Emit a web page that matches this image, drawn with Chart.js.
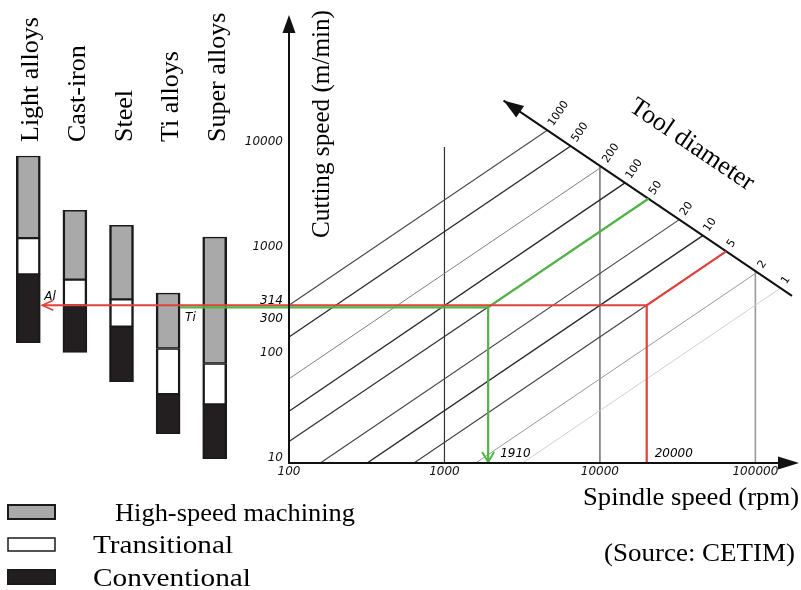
<!DOCTYPE html>
<html><head><meta charset="utf-8">
<script src="https://cdn.jsdelivr.net/npm/chart.js@4.4.1/dist/chart.umd.min.js"></script>
<style>
html,body{margin:0;padding:0;background:#fff;}
#wrap{position:relative;width:801px;height:590px;overflow:hidden;background:#fff;}
canvas{position:absolute;left:0;top:0;}
</style></head><body>
<div id="wrap"><canvas id="bars" width="801" height="590"></canvas><canvas id="nomo" width="801" height="590"></canvas></div>
<script>
// ---------- data ----------
const materials = ['Light alloys', 'Cast-iron', 'Steel', 'Ti alloys', 'Super alloys'];
const barTop    = [8200, 2500, 1800, 410, 1390];   // top of high-speed zone (m/min)
const hsmLow    = [1360, 550, 357, 122, 88];       // high-speed / transitional limit
const convHigh  = [617, 313, 197, 45, 36];         // transitional / conventional limit
const barBottom = [139, 112, 59, 19, 11];          // bottom of conventional zone
const zoneNames = ['High-speed machining', 'Transitional', 'Conventional'];

const diameters = [1000, 500, 200, 100, 50, 20, 10, 5, 2, 1];        // tool diameter (mm)
const dStartN = [100, 100, 100, 100, 100, 159, 318, 637, 1590, 3180];  // spindle speed at line start
const dStartV = [314, 157, 63, 31, 16, 10, 10, 10, 10, 10];            // cutting speed at line start
const dEndN   = [4590, 6490, 10260, 14500, 20500, 32400, 45900, 64900, 102600, 145000];
const dEndV   = [14400, 10200, 6450, 4560, 3220, 2040, 1440, 1020, 645, 456];

const gridN    = [1000, 10000, 100000];
const gridTopV = [10000, 6600, 661];

const toolAxisN = [2400, 172000];
const toolAxisV = [27500, 385];

const xTicks = [100, 1000, 10000, 100000];
const yTicks = [10, 100, 1000, 10000];

const exampleLabels = ['Al', 'Ti'];
const exampleN = [20000, 1910];
const exampleV = [314, 300];
const exampleD = [5, 50];
const exampleBar = [0, 3];

// ---------- styles ----------
const zoneColors = ['#a9a9a9', '#ffffff', '#231f20'];
const dColors = ['#4a4a4a', '#2a2a2a', '#808080', '#2a2a2a', '#333333', '#444444', '#2a2a2a', '#444444', '#999999', '#d0d0d0'];
const dWidths = [1.1, 1.4, 1, 1.4, 1.3, 1.2, 1.4, 1.2, 1, 1];
const gridColors = ['#333333', '#777777', '#999999'];
const gridWidths = [1.2, 1.6, 1.6];
const exColors = ['#e0423c', '#52b447'];
const SERIF = '"Liberation Serif", "Times New Roman", serif';
const SANS = '"DejaVu Sans", sans-serif';

// draw text stretched horizontally to a given width
function fitText(ctx, text, x, y, width) {
  const w = ctx.measureText(text).width;
  ctx.save();
  ctx.translate(x, y);
  ctx.scale(width / w, 1);
  ctx.fillText(text, 0, 0);
  ctx.restore();
}

// ---------- bar chart (material ranges) ----------
const barLabelsPlugin = {
  id: 'barLabels',
  afterDraw(chart) {
    const ctx = chart.ctx;
    const meta = chart.getDatasetMeta(0);
    ctx.save();
    ctx.fillStyle = '#000';
    ctx.font = '26px ' + SERIF;
    ctx.textAlign = 'left';
    ctx.textBaseline = 'alphabetic';
    meta.data.forEach((el, i) => {
      ctx.save();
      ctx.translate(el.x + 10, 142);
      ctx.rotate(-Math.PI / 2);
      ctx.fillText(chart.data.labels[i], 0, 0);
      ctx.restore();
    });
    // legend
    const sw = [[8, 505, 47, 14, 2], [8, 538, 47, 13, 1.5], [8, 570, 47, 14, 2]];
    const tx = [[115, 521, 240], [93, 553, 140], [93, 586, 158]];
    chart.data.datasets.forEach((ds, i) => {
      const [x, y, w, h, lw] = sw[i];
      ctx.fillStyle = ds.backgroundColor;
      ctx.fillRect(x, y, w, h);
      ctx.lineWidth = lw;
      ctx.strokeStyle = '#1a1a1a';
      ctx.strokeRect(x, y, w, h);
      ctx.fillStyle = '#000';
      ctx.font = '26px ' + SERIF;
      fitText(ctx, ds.label, tx[i][0], tx[i][1], tx[i][2]);
    });
    ctx.restore();
  }
};

const barChart = new Chart(document.getElementById('bars'), {
  type: 'bar',
  data: {
    labels: materials,
    datasets: [
      { label: zoneNames[0], data: materials.map((_, i) => [hsmLow[i], barTop[i]]), backgroundColor: zoneColors[0] },
      { label: zoneNames[1], data: materials.map((_, i) => [convHigh[i], hsmLow[i]]), backgroundColor: zoneColors[1] },
      { label: zoneNames[2], data: materials.map((_, i) => [barBottom[i], convHigh[i]]), backgroundColor: zoneColors[2] }
    ]
  },
  options: {
    responsive: false, animation: false,
    layout: { padding: { left: 5, right: 563, top: 20, bottom: 127 } },
    plugins: { legend: { display: false }, tooltip: { enabled: false } },
    datasets: { bar: { grouped: false, barThickness: 24, borderColor: '#1a1a1a',
      borderWidth: { left: 2.5, right: 2.5, top: 1.5, bottom: 1.5 }, borderSkipped: false } },
    scales: {
      x: { display: false },
      y: { display: false, type: 'logarithmic', min: 10, max: 160000 }
    }
  },
  plugins: [barLabelsPlugin]
});

// ---------- nomogram ----------
function seg(points, color, width, order, extra) {
  return Object.assign({ data: points, borderColor: color, borderWidth: width, showLine: true,
    pointRadius: 0, fill: false, order: order, borderCapStyle: 'butt', borderJoinStyle: 'miter' }, extra || {});
}
const datasets = [];
exampleN.forEach((n, k) => {
  const di = diameters.indexOf(exampleD[k]);
  datasets.push(seg([{ x: n, y: 10 }, { x: n, y: exampleV[k] }, { x: dEndN[di], y: dEndV[di] }], exColors[k], 2.2, 0));
});
datasets.push(seg([{ x: toolAxisN[0], y: toolAxisV[0] }, { x: toolAxisN[1], y: toolAxisV[1] }], '#111', 2, 1, { clip: false }));
diameters.forEach((d, i) => {
  datasets.push(seg([{ x: dStartN[i], y: dStartV[i] }, { x: dEndN[i], y: dEndV[i] }], dColors[i], dWidths[i], 2));
});
gridN.forEach((n, i) => {
  datasets.push(seg([{ x: n, y: 10 }, { x: n, y: gridTopV[i] }], gridColors[i], gridWidths[i], 3));
});

function arrowFilled(ctx, tipX, tipY, dx, dy, len, half) {
  const m = Math.hypot(dx, dy); const ux = dx / m, uy = dy / m;
  const bx = tipX - ux * len, by = tipY - uy * len;
  ctx.beginPath();
  ctx.moveTo(tipX, tipY);
  ctx.lineTo(bx - uy * half, by + ux * half);
  ctx.lineTo(bx + uy * half, by - ux * half);
  ctx.closePath();
  ctx.fill();
}
function chevron(ctx, tipX, tipY, dx, dy, len, half) {
  const m = Math.hypot(dx, dy); const ux = dx / m, uy = dy / m;
  const bx = tipX - ux * len, by = tipY - uy * len;
  ctx.beginPath();
  ctx.moveTo(bx - uy * half, by + ux * half);
  ctx.lineTo(tipX, tipY);
  ctx.lineTo(bx + uy * half, by - ux * half);
  ctx.stroke();
}

const nomoPlugin = {
  id: 'nomo',
  afterDatasetsDraw(chart) {
    const ctx = chart.ctx, xs = chart.scales.x, ys = chart.scales.y, ca = chart.chartArea;
    const bmeta = barChart.getDatasetMeta(0);
    ctx.save();
    // leader lines from the material bars to the worked examples
    exampleN.forEach((n, k) => {
      const el = bmeta.data[exampleBar[k]];
      const left = el.x + el.width / 2 + (k === 0 ? 2 : 0);
      const y = ys.getPixelForValue(exampleV[k]);
      ctx.strokeStyle = exColors[k];
      ctx.lineWidth = 2.2;
      ctx.beginPath(); ctx.moveTo(left, y); ctx.lineTo(xs.getPixelForValue(n), y); ctx.stroke();
      ctx.fillStyle = '#000';
      ctx.font = 'italic 12px ' + SANS;
      ctx.textAlign = 'left'; ctx.textBaseline = 'alphabetic';
      ctx.fillText(exampleLabels[k], left + (k === 0 ? 2 : 5), y + (k === 0 ? -5 : 14));
    });
    // arrowheads of examples
    ctx.lineWidth = 1.6; ctx.strokeStyle = exColors[0];
    { const el = bmeta.data[exampleBar[0]]; const y = ys.getPixelForValue(exampleV[0]);
      chevron(ctx, el.x + el.width / 2 + 2, y, -1, 0, 11, 5); }
    ctx.lineWidth = 2; ctx.strokeStyle = exColors[1];
    chevron(ctx, xs.getPixelForValue(exampleN[1]), ca.bottom - 1, 0, 1, 10, 6);
    // spindle speed values
    ctx.fillStyle = '#000'; ctx.font = 'italic 12px ' + SANS; ctx.textBaseline = 'middle';
    ctx.fillText(String(exampleN[1]), xs.getPixelForValue(exampleN[1]) + 12, ca.bottom - 9);
    ctx.fillText(String(exampleN[0]), xs.getPixelForValue(exampleN[0]) + 8, ca.bottom - 9);
    // 314 / 300 labels on the cutting speed axis
    ctx.textAlign = 'right'; ctx.font = 'italic 12px ' + SANS;
    ctx.fillText(String(exampleV[0]), ca.left - 6, ys.getPixelForValue(exampleV[0]) - 4);
    ctx.fillText(String(exampleV[1]), ca.left - 6, ys.getPixelForValue(exampleV[1]) + 12);
    // axes with arrows
    ctx.strokeStyle = '#111'; ctx.fillStyle = '#111'; ctx.lineWidth = 2;
    ctx.beginPath(); ctx.moveTo(ca.left, ca.bottom); ctx.lineTo(ca.left, 30); ctx.stroke();
    arrowFilled(ctx, ca.left, 15, 0, -1, 18, 6.5);
    ctx.beginPath(); ctx.moveTo(ca.left - 1, ca.bottom); ctx.lineTo(781, ca.bottom); ctx.stroke();
    arrowFilled(ctx, 799, ca.bottom, 1, 0, 21, 6.5);
    // tool diameter axis arrow + labels
    const ax = xs.getPixelForValue(toolAxisN[0]), ay = ys.getPixelForValue(toolAxisV[0]);
    const bx = xs.getPixelForValue(toolAxisN[1]), by = ys.getPixelForValue(toolAxisV[1]);
    const m = Math.hypot(bx - ax, by - ay); const ux = (bx - ax) / m, uy = (by - ay) / m;
    arrowFilled(ctx, ax, ay, -ux, -uy, 20, 7);
    const nx = uy, ny = -ux; const ang = Math.atan2(ny, nx);
    ctx.font = '11px ' + SANS; ctx.textAlign = 'left'; ctx.textBaseline = 'middle'; ctx.fillStyle = '#000';
    diameters.forEach((d, i) => {
      const px = xs.getPixelForValue(dEndN[i]), py = ys.getPixelForValue(dEndV[i]);
      ctx.save();
      ctx.translate(px + nx * 6, py + ny * 6);
      ctx.rotate(ang);
      ctx.fillText(String(d), 0, 0);
      ctx.restore();
    });
    // titles
    ctx.font = '26px ' + SERIF; ctx.textBaseline = 'alphabetic'; ctx.textAlign = 'left';
    ctx.save(); ctx.translate(329, 238); ctx.rotate(-Math.PI / 2); fitText(ctx, 'Cutting speed (m/min)', 0, 0, 228); ctx.restore();
    ctx.save(); ctx.translate(628, 110); ctx.rotate(Math.atan2(uy, ux)); ctx.fillText('Tool diameter', 0, 0); ctx.restore();
    fitText(ctx, 'Spindle speed (rpm)', 583, 505, 216);
    fitText(ctx, '(Source: CETIM)', 604, 561, 191);
    ctx.restore();
  }
};

new Chart(document.getElementById('nomo'), {
  type: 'scatter',
  data: { datasets: datasets },
  options: {
    responsive: false, animation: false,
    layout: { padding: { left: 245, right: 11, top: 20, bottom: 109 } },
    plugins: { legend: { display: false }, tooltip: { enabled: false } },
    scales: {
      x: {
        type: 'logarithmic', min: 100, max: 167000,
        afterBuildTicks: s => { s.ticks = xTicks.map(v => ({ value: v })); },
        afterFit: s => { s.height = 18; },
        grid: { display: false, drawTicks: false }, border: { display: false },
        ticks: { callback: v => String(v), font: { family: SANS, style: 'italic', size: 12 }, color: '#111', padding: 2, maxRotation: 0, autoSkip: false }
      },
      y: {
        type: 'logarithmic', min: 10, max: 160000,
        afterBuildTicks: s => { s.ticks = yTicks.map(v => ({ value: v })); },
        afterFit: s => { s.width = 44; },
        grid: { display: false, drawTicks: false }, border: { display: false },
        ticks: { callback: v => String(v), font: { family: SANS, style: 'italic', size: 12 }, color: '#111', padding: 6, labelOffset: -5, autoSkip: false }
      }
    }
  },
  plugins: [nomoPlugin]
});
</script>
</body></html>
